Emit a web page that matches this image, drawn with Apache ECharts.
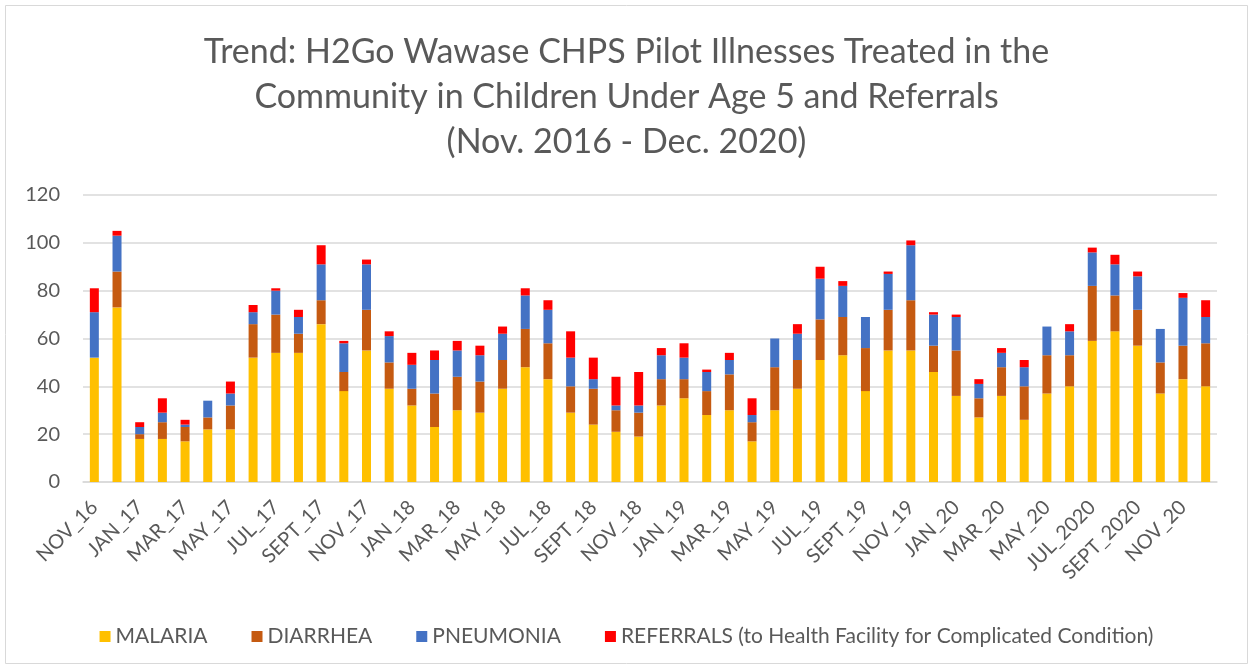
<!DOCTYPE html>
<html><head><meta charset="utf-8">
<script src="https://cdn.jsdelivr.net/npm/echarts@6/dist/echarts.min.js"></script>
<style>html,body{margin:0;padding:0;background:#fff}#c{width:1253px;height:670px}</style>
</head><body><div id="c"></div>
<script>
const categories = ["NOV_16","DEC_16","JAN_17","FEB_17","MAR_17","APR_17","MAY_17","JUN_17","JUL_17","AUG_17","SEPT_17","OCT_17","NOV_17","DEC_17","JAN_18","FEB_18","MAR_18","APR_18","MAY_18","JUN_18","JUL_18","AUG_18","SEPT_18","OCT_18","NOV_18","DEC_18","JAN_19","FEB_19","MAR_19","APR_19","MAY_19","JUN_19","JUL_19","AUG_19","SEPT_19","OCT_19","NOV_19","DEC_19","JAN_20","FEB_20","MAR_20","APR_20","MAY_20","JUN_20","JUL_2020","AUG_2020","SEPT_2020","OCT_2020","NOV_20","DEC_20"];
const malaria   = [52,73,18,18,17,22,22,52,54,54,66,38,55,39,32,23,30,29,39,48,43,29,24,21,19,32,35,28,30,17,30,39,51,53,38,55,55,46,36,27,36,26,37,40,59,63,57,37,43,40];
const diarrhea  = [0,15,2,7,6,5,10,14,16,8,10,8,17,11,7,14,14,13,12,16,15,11,15,9,10,11,8,10,15,8,18,12,17,16,18,17,21,11,19,8,12,14,16,13,23,15,15,13,14,18];
const pneumonia = [19,15,3,4,1,7,5,5,10,7,15,12,19,11,10,14,11,11,11,14,14,12,4,2,3,10,9,8,6,3,12,11,17,13,13,15,23,13,14,6,6,8,12,10,14,13,14,14,20,11];
const referrals = [10,2,2,6,2,0,5,3,1,3,8,1,2,2,5,4,4,4,3,3,4,11,9,12,14,3,6,1,3,7,0,4,5,2,0,1,2,1,1,2,2,3,0,3,2,4,2,0,2,7];
const yTicks = {min:0, max:120, interval:20};
const seriesNames = ["MALARIA","DIARRHEA","PNEUMONIA","REFERRALS (to Health Facility for Complicated Condition)"];
const colors = ["#FFC000","#C55A11","#4472C4","#FF0000"];
const titleText = "Trend: H2Go Wawase CHPS Pilot Illnesses Treated in the\nCommunity in Children Under Age 5 and Referrals\n(Nov. 2016 - Dec. 2020)";

const FONT = "Lato";
const chart = echarts.init(document.getElementById('c'), null, {renderer:'canvas'});
const values = [malaria, diarrhea, pneumonia, referrals];
chart.setOption({
  animation:false,
  backgroundColor:'#fff',
  color: colors,
  textStyle:{fontFamily:FONT},
  graphic:[{type:'rect', shape:{x:5.5,y:5.5,width:1242,height:658}, style:{fill:'none', stroke:'#d9d9d9', lineWidth:1}, silent:true}],
  title:{text:titleText, left:'center', top:25, textStyle:{fontFamily:FONT, fontSize:34, fontWeight:'normal', color:'#595959', lineHeight:45}},
  legend:{data:seriesNames, left:'center', top:621, icon:'rect', itemWidth:11, itemHeight:11, itemGap:44, textStyle:{fontFamily:FONT, fontSize:21, color:'#595959'}, selectedMode:false},
  grid:{left:83, right:36, top:195, bottom:188},
  xAxis:{type:'category', data:categories, axisTick:{show:false}, axisLine:{lineStyle:{color:'#d9d9d9', width:1.5}},
    axisLabel:{interval:1, rotate:45, margin:22, fontSize:20, color:'#595959', fontFamily:FONT}},
  yAxis:{type:'value', min:yTicks.min, max:yTicks.max, interval:yTicks.interval, axisLine:{show:false}, axisTick:{show:false},
    splitLine:{lineStyle:{color:'#d9d9d9', width:1.5}}, axisLabel:{fontSize:20, color:'#595959', margin:23, fontFamily:FONT}},
  series: seriesNames.map((n,i)=>({name:n, type:'bar', stack:'total', barWidth:9, data:values[i], itemStyle:{color:colors[i]}, emphasis:{disabled:true}}))
});
</script></body></html>
